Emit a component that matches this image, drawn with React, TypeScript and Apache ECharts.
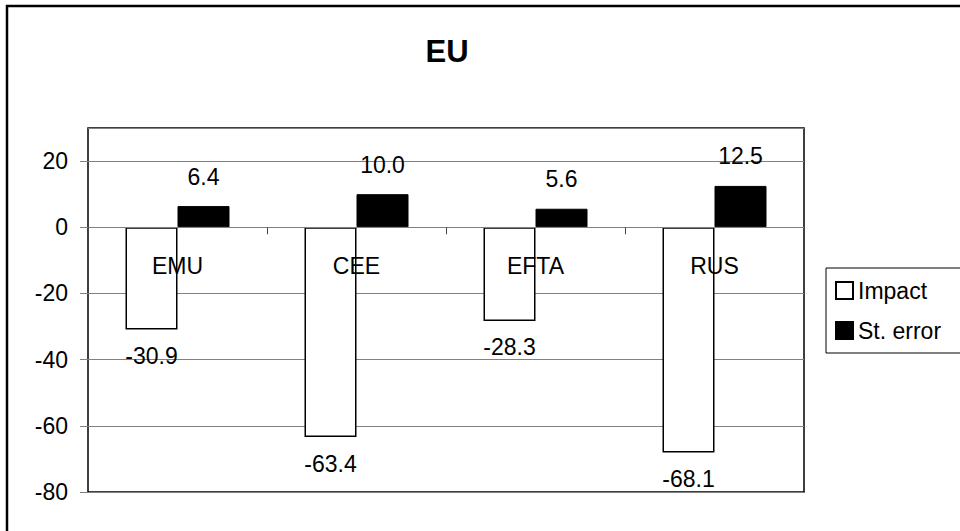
import React, { useEffect, useRef } from "react";
import * as echarts from "echarts";

const categories = ["EMU", "CEE", "EFTA", "RUS"];
const impactValues = [-30.9, -63.4, -28.3, -68.1];
const stErrorValues = [6.4, 10.0, 5.6, 12.5];
const seriesNames = ["Impact", "St. error"];
const titleText = "EU";

const FONT = "'Liberation Sans', Arial, sans-serif";

export default function App() {
  const ref = useRef<HTMLDivElement>(null);
  useEffect(() => {
    if (!ref.current) return;
    const chart = echarts.init(ref.current, undefined, { renderer: "svg" });
    chart.setOption({
      animation: false,
      backgroundColor: "#ffffff",
      textStyle: { fontFamily: FONT },
      graphic: [
        {
          type: "rect",
          shape: { x: 7, y: 6, width: 1000, height: 600 },
          style: { fill: "none", stroke: "#000", lineWidth: 2.5 },
          z: 100,
        },
        {
          type: "text",
          x: 447,
          y: 51,
          style: {
            text: titleText,
            fontFamily: FONT,
            fontSize: 31,
            fontWeight: "bold",
            fill: "#000",
            textAlign: "center",
            textVerticalAlign: "middle",
          },
        },
      ],
      legend: {
        orient: "vertical",
        left: 826,
        top: 268,
        padding: [11, 40, 11, 9],
        itemWidth: 17,
        itemHeight: 17,
        itemGap: 17,
        borderColor: "#000",
        borderWidth: 1,
        backgroundColor: "#fff",
        icon: "rect",
        textStyle: { fontFamily: FONT, fontSize: 23, color: "#000" },
        data: seriesNames,
      },
      grid: {
        left: 88,
        top: 128,
        right: 156,
        bottom: 39,
        show: true,
        borderColor: "#000",
        borderWidth: 1.5,
        containLabel: false,
        outerBoundsMode: "none",
      },
      xAxis: {
        type: "category",
        data: categories,
        axisLine: { onZero: true, lineStyle: { color: "#808080", width: 1 } },
        axisTick: { show: true, length: 7, lineStyle: { color: "#444" } },
        axisLabel: { margin: -238, fontFamily: FONT, fontSize: 23, color: "#000" },
        z: 10,
      },
      yAxis: {
        type: "value",
        min: -80,
        max: 30,
        interval: 20,
        axisLine: { show: false },
        axisTick: { show: true, length: 8, lineStyle: { color: "#808080" } },
        axisLabel: {
          margin: 20,
          fontFamily: FONT,
          fontSize: 23,
          color: "#000",
          showMaxLabel: false,
        },
        splitLine: { show: true, lineStyle: { color: "#808080", width: 1 } },
      },
      series: [
        {
          name: seriesNames[0],
          type: "bar",
          data: impactValues,
          barWidth: 52,
          barGap: "0%",
          itemStyle: { color: "#fff", borderColor: "#000", borderWidth: 1.5 },
          label: {
            show: true,
            position: "bottom",
            distance: 15,
            fontFamily: FONT,
            fontSize: 23,
            color: "#000",
            formatter: (p: any) => Number(p.value).toFixed(1),
          },
        },
        {
          name: seriesNames[1],
          type: "bar",
          data: stErrorValues,
          barWidth: 52,
          barGap: "0%",
          itemStyle: { color: "#000", borderColor: "#000", borderWidth: 1 },
          label: {
            show: true,
            position: "top",
            distance: 18,
            fontFamily: FONT,
            fontSize: 23,
            color: "#000",
            formatter: (p: any) => Number(p.value).toFixed(1),
          },
        },
      ],
    });
    return () => chart.dispose();
  }, []);
  return <div ref={ref} style={{ width: 960, height: 531, position: "absolute", left: 0, top: 0 }} />;
}
